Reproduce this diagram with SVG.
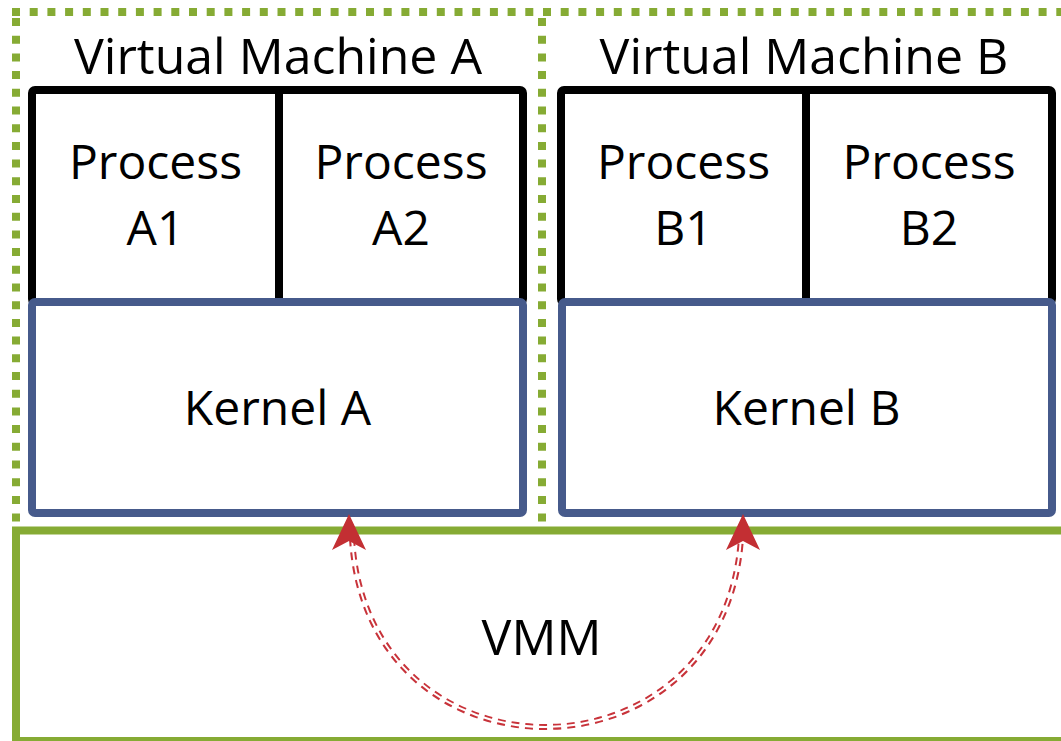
<svg xmlns="http://www.w3.org/2000/svg" width="1061" height="741" viewBox="0 0 1061 741">
  <style>
    .label { font-family: "Open Sans", "Noto Sans", "Liberation Sans", sans-serif; font-size: 48px; fill: #000; text-anchor: middle; }
    .title { font-size: 50px; }
    .vm-border { fill: none; stroke: #86AB34; stroke-width: 8; stroke-dasharray: 8 9.7; }
    .vmm-border { fill: none; stroke: #86AB34; stroke-width: 8; }
    .proc-box { fill: none; stroke: #000; stroke-width: 8; }
    .kernel-box { fill: #fff; stroke: #465A8B; stroke-width: 8; }
    .link-outer { fill: none; stroke: #C8333A; stroke-width: 6; stroke-dasharray: 8 6; }
    .link-inner { fill: none; stroke: #fff; stroke-width: 2; }
    .head { fill: #C32F33; }
  </style>
  <defs>
    <path id="arrowhead" d="M0,0 L17,36 L0,27 L-17,36 Z"/>
  </defs>

  <rect width="1061" height="741" fill="#fff"/>

  <!-- hypervisor layer -->
  <g id="vmm">
    <rect class="vmm-border" x="16" y="530.5" width="1060" height="210.5"/>
    <text class="label title" x="541.5" y="655">VMM</text>
  </g>

  <!-- virtual machine boundaries (dotted) -->
  <g id="vm-boundaries">
    <line class="vm-border" x1="12" y1="12" x2="1061" y2="12"/>
    <line class="vm-border" x1="16" y1="18" x2="16" y2="526"/>
    <line class="vm-border" x1="542" y1="18" x2="542" y2="526"/>
  </g>

  <g id="vm-a">
    <text class="label title" x="278" y="74">Virtual Machine A</text>
    <g id="processes-a">
      <rect class="proc-box" x="32" y="90" width="491" height="212" rx="3"/>
      <line x1="279" y1="90" x2="279" y2="302" stroke="#000" stroke-width="8"/>
      <text class="label" x="155.5" y="179">Process</text>
      <text class="label" x="155.5" y="245">A1</text>
      <text class="label" x="401" y="179">Process</text>
      <text class="label" x="401" y="245">A2</text>
    </g>
    <g id="kernel-a">
      <rect class="kernel-box" x="32" y="302" width="491" height="211" rx="3"/>
      <text class="label" x="277.5" y="425">Kernel A</text>
    </g>
  </g>

  <g id="vm-b">
    <text class="label title" x="804" y="74">Virtual Machine B</text>
    <g id="processes-b">
      <rect class="proc-box" x="561" y="90" width="491" height="212" rx="3"/>
      <line x1="806" y1="90" x2="806" y2="302" stroke="#000" stroke-width="8"/>
      <text class="label" x="683.5" y="179">Process</text>
      <text class="label" x="683.5" y="245">B1</text>
      <text class="label" x="929" y="179">Process</text>
      <text class="label" x="929" y="245">B2</text>
    </g>
    <g id="kernel-b">
      <rect class="kernel-box" x="562" y="302" width="490" height="211" rx="3"/>
      <text class="label" x="806.5" y="425">Kernel B</text>
    </g>
  </g>

  <!-- kernel-to-kernel channel through the VMM -->
  <g id="connectors">
    <path class="link-outer" d="M352,538 C366,790 724,790 741,538"/>
    <path class="link-inner" d="M352,538 C366,790 724,790 741,538"/>
    <use class="head" href="#arrowhead" transform="translate(349,514)"/>
    <use class="head" href="#arrowhead" transform="translate(743,514)"/>
  </g>
</svg>
